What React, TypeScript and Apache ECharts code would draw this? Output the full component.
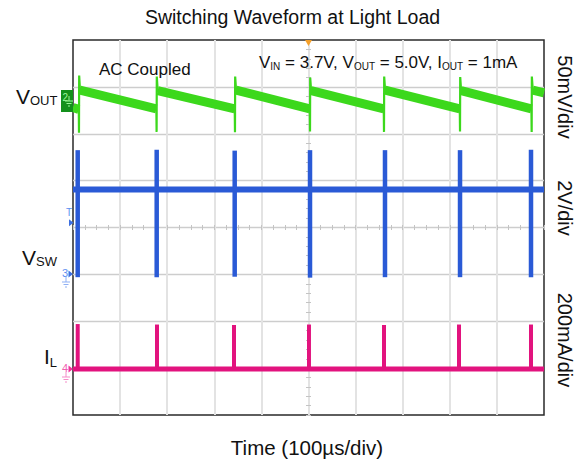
import React, { useEffect, useRef } from "react";
import * as echarts from "echarts";

const FONT = '"Liberation Sans", Arial, Helvetica, sans-serif';

// Axes: time 0..1000 µs (100 µs/div), vertical 0..8 divisions
const timeMin = 0;
const timeMax = 1000;
const timeStep = 100;
const divMin = 0;
const divMax = 8;
const divStep = 1;

// VOUT (green, AC coupled) ramps: [tStart, vStart, tEnd, vEnd] (µs, div)
const voutRamps: number[][] = [
  [0, 6.56, 12.3, 6.52],
  [14.8, 6.93, 177, 6.53],
  [179.8, 6.92, 343.4, 6.53],
  [346.2, 6.93, 502.7, 6.53],
  [505.5, 6.92, 659.8, 6.53],
  [662.6, 6.93, 821.2, 6.53],
  [824, 6.92, 973.3, 6.53],
  [976.1, 6.93, 1000, 6.87],
];
// VOUT spikes: [t, low, high]
const voutSpikes: number[][] = [
  [12.7, 6.02, 7.24],
  [177.5, 6.04, 7.22],
  [343.9, 6.03, 7.22],
  [503.2, 6.05, 7.2],
  [660.3, 6.04, 7.22],
  [821.7, 6.05, 7.21],
  [973.8, 6.04, 7.22],
];

// VSW (blue) baseline level and spikes [t, low, high]
const vswLevel = 4.81;
const vswSpikes: number[][] = [
  [10, 2.94, 5.65],
  [177.7, 2.94, 5.66],
  [343.3, 2.95, 5.64],
  [503.2, 2.93, 5.65],
  [662.4, 2.94, 5.65],
  [821.7, 2.94, 5.65],
  [972.4, 2.94, 5.66],
];

// IL (magenta) baseline level and spikes [t, high]
const ilLevel = 0.98;
const ilSpikes: number[][] = [
  [10, 1.94],
  [178.3, 1.93],
  [341.8, 1.92],
  [501, 1.93],
  [660.3, 1.92],
  [819.5, 1.93],
  [972.4, 1.93],
];

const GREEN = "#3cd81c";
const BLUE = "#2a5ad6";
const PINK = "#e2137e";

export default function App() {
  const ref = useRef<HTMLDivElement>(null);

  useEffect(() => {
    const chart = echarts.init(ref.current!, null, { renderer: "svg" });
    const ctx = document.createElement("canvas").getContext("2d")!;
    const tw = (t: string, size: number) => {
      ctx.font = `${size}px ${FONT}`;
      return ctx.measureText(t).width;
    };
    const txt = (
      x: number,
      y: number,
      text: string,
      size: number,
      extra: any = {}
    ) => ({
      type: "text",
      x,
      y,
      rotation: extra.rotation || 0,
      z: 100,
      style: {
        text,
        fontSize: size,
        fontFamily: FONT,
        fill: extra.fill || "#111",
        align: extra.align || "left",
        textAlign: extra.align || "left",
        verticalAlign: "middle",
        textVerticalAlign: "middle",
      },
    });
    const subText = (
      x: number,
      yMain: number,
      ySub: number,
      parts: [string, boolean][],
      mainSize: number,
      subSize: number
    ) => {
      let cx = x;
      const out: any[] = [];
      for (const [t, sub] of parts) {
        const size = sub ? subSize : mainSize;
        const trimmed = t.trimStart();
        const lead = t.length - trimmed.length;
        const off = lead ? tw(" ".repeat(lead), size) : 0;
        out.push(txt(cx + off, sub ? ySub : yMain, trimmed, size));
        cx += tw(t, size);
      }
      return out;
    };

    // Thin full VOUT path: ramps with spikes interleaved
    const voutPath: number[][] = [];
    voutRamps.forEach((r, i) => {
      voutPath.push([r[0], r[1]], [r[2], r[3]]);
      const s = voutSpikes[i];
      if (s) voutPath.push([s[0], s[1]], [s[0] + 0.4, s[2]]);
    });

    const lineItem = (color: string, width: number) => (params: any, api: any) => {
      const p1 = api.coord([api.value(0), api.value(1)]);
      const p2 = api.coord([api.value(2), api.value(3)]);
      return {
        type: "line",
        shape: { x1: p1[0], y1: p1[1], x2: p2[0], y2: p2[1] },
        style: { stroke: color, lineWidth: width, lineCap: "butt" },
      };
    };

    const groundSym = (x: number, y: number, color: string) => [
      { type: "line", z: 100, shape: { x1: x, y1: y, x2: x, y2: y + 5 }, style: { stroke: color, lineWidth: 1 } },
      { type: "line", z: 100, shape: { x1: x - 4, y1: y + 5, x2: x + 4, y2: y + 5 }, style: { stroke: color, lineWidth: 1 } },
      { type: "line", z: 100, shape: { x1: x - 2.5, y1: y + 7.5, x2: x + 2.5, y2: y + 7.5 }, style: { stroke: color, lineWidth: 1 } },
      { type: "line", z: 100, shape: { x1: x - 1, y1: y + 10, x2: x + 1, y2: y + 10 }, style: { stroke: color, lineWidth: 1 } },
    ];
    const arrow = (x: number, y: number, color: string) => ({
      type: "polygon",
      z: 100,
      shape: { points: [[x - 4.5, y - 3.5], [x - 4.5, y + 3.5], [x, y]] },
      style: { fill: color },
    });

    const graphics: any[] = [
      txt(292.5, 17, "Switching Waveform at Light Load", 19.5, { align: "center" }),
      txt(307, 447, "Time (100µs/div)", 20.5, { align: "center" }),
      txt(99, 69, "AC Coupled", 17),
      ...subText(
        259,
        62.5,
        66.7,
        [
          ["V", false],
          ["IN", true],
          [" = 3.7V, V", false],
          ["OUT", true],
          [" = 5.0V, I", false],
          ["OUT", true],
          [" = 1mA", false],
        ],
        17,
        10
      ),
      ...subText(16, 96.5, 100.3, [["V", false], ["OUT", true]], 21, 13),
      ...subText(22, 257.5, 261.4, [["V", false], ["SW", true]], 21, 13),
      ...subText(44, 356, 362.3, [["I", false], ["L", true]], 21, 13),
      txt(565, 97, "50mV/div", 20, { align: "center", rotation: -Math.PI / 2 }),
      txt(565, 208, "2V/div", 20, { align: "center", rotation: -Math.PI / 2 }),
      txt(565, 340, "200mA/div", 20, { align: "center", rotation: -Math.PI / 2 }),
      // channel 2 marker
      { type: "rect", z: 99, shape: { x: 61, y: 90, width: 12, height: 22 }, style: { fill: "#13901c" } },
      txt(62.5, 97, "2", 10, { fill: "#9af79a" }),
      ...groundSym(69, 96, "#9af79a"),
      // trigger level + channel 3
      txt(66, 212, "T", 10, { fill: "#5d8ff0" }),
      arrow(73.5, 222.8, "#3d6fe0"),
      txt(62, 273, "3", 11, { fill: "#5d8ff0" }),
      arrow(73, 274, "#3d6fe0"),
      ...groundSym(66, 277, "#8fb0f5"),
      // channel 4
      txt(62, 368, "4", 11, { fill: "#f060b0" }),
      arrow(73, 369, "#ee3399"),
      ...groundSym(66, 372, "#f58cc8"),
      // trigger position
      {
        type: "polygon",
        z: 100,
        shape: { points: [[305, 40], [312, 40], [308.5, 46]] },
        style: { fill: "#f5a02a" },
      },
    ];

    const option: any = {
      animation: false,
      backgroundColor: "#ffffff",
      grid: {
        left: 73,
        top: 40,
        width: 471,
        height: 375,
        show: true,
        borderColor: "#2a2a2a",
        borderWidth: 1.5,
        backgroundColor: "transparent",
      },
      xAxis: [
        {
          type: "value",
          min: timeMin,
          max: timeMax,
          interval: timeStep,
          axisLabel: { show: false },
          axisLine: { show: false },
          axisTick: { show: false },
          splitLine: {
            show: true,
            showMinLine: false,
            showMaxLine: false,
            lineStyle: { color: "#e3e3e3", width: 2 },
          },
        },
        {
          type: "value",
          min: timeMin,
          max: timeMax,
          interval: timeStep,
          position: "bottom",
          offset: -185,
          axisLabel: { show: false },
          axisLine: { show: false },
          axisTick: { show: true, inside: true, length: 5, lineStyle: { color: "#c4c4c4" } },
          minorTick: { show: true, splitNumber: 4, length: 5, lineStyle: { color: "#c4c4c4" } },
          splitLine: { show: false },
        },
      ],
      yAxis: [
        {
          type: "value",
          min: divMin,
          max: divMax,
          interval: divStep,
          axisLabel: { show: false },
          axisLine: { show: false },
          axisTick: { show: false },
          splitLine: {
            show: true,
            showMinLine: false,
            showMaxLine: false,
            lineStyle: { color: "#cdcdcd", width: 1.3 },
          },
        },
        {
          type: "value",
          min: divMin,
          max: divMax,
          interval: divStep,
          position: "left",
          offset: -233,
          axisLabel: { show: false },
          axisLine: { show: false },
          axisTick: { show: true, inside: true, length: 5, lineStyle: { color: "#c4c4c4" } },
          minorTick: { show: true, splitNumber: 5, length: 5, lineStyle: { color: "#c4c4c4" } },
          splitLine: { show: false },
        },
      ],
      series: [
        {
          name: "VOUT",
          type: "line",
          data: voutPath,
          showSymbol: false,
          lineStyle: { color: GREEN, width: 2.2 },
          z: 3,
        },
        {
          name: "VOUT band",
          type: "custom",
          coordinateSystem: "cartesian2d",
          data: voutRamps,
          renderItem: lineItem(GREEN, 9),
          z: 3,
        },
        {
          name: "VSW",
          type: "line",
          data: [
            [timeMin, vswLevel],
            [timeMax, vswLevel],
          ],
          showSymbol: false,
          lineStyle: { color: BLUE, width: 6 },
          z: 3,
        },
        {
          name: "VSW spikes",
          type: "custom",
          coordinateSystem: "cartesian2d",
          data: vswSpikes.map((s) => [s[0], s[1], s[0], s[2]]),
          renderItem: lineItem(BLUE, 4.5),
          z: 3,
        },
        {
          name: "IL",
          type: "line",
          data: [
            [timeMin, ilLevel],
            [timeMax, ilLevel],
          ],
          showSymbol: false,
          lineStyle: { color: PINK, width: 5 },
          z: 3,
        },
        {
          name: "IL spikes",
          type: "custom",
          coordinateSystem: "cartesian2d",
          data: ilSpikes.map((s) => [s[0], ilLevel, s[0], s[1]]),
          renderItem: lineItem(PINK, 4),
          z: 3,
        },
      ],
      graphic: graphics,
    };

    chart.setOption(option);
    return () => chart.dispose();
  }, []);

  return (
    <div
      ref={ref}
      style={{
        position: "fixed",
        left: 0,
        top: 0,
        width: 585,
        height: 465,
        background: "#fff",
      }}
    />
  );
}
